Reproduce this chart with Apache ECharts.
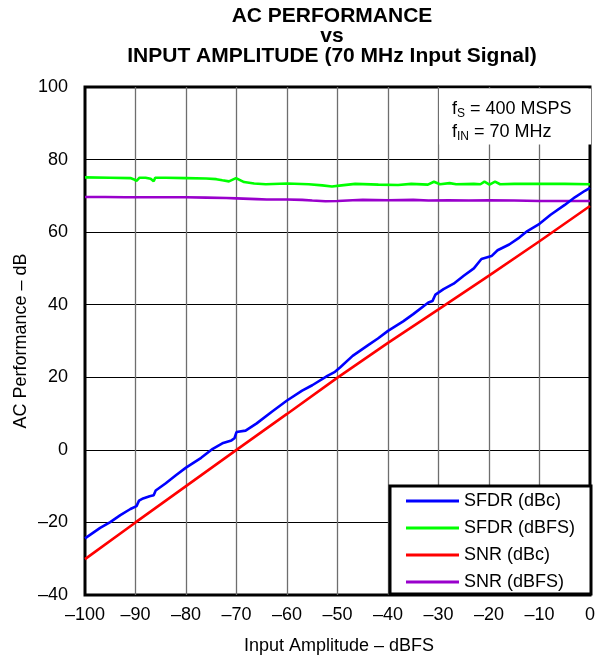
<!DOCTYPE html>
<html>
<head>
<meta charset="utf-8">
<script src="https://cdn.jsdelivr.net/npm/echarts@6/dist/echarts.min.js"></script>
<style>
  html, body { margin: 0; padding: 0; background: #fff; }
  #chart { width: 598px; height: 659px; }
</style>
</head>
<body>
<div id="chart"></div>
<script>
// Input amplitude (dBFS) and measured performance (dB) for each trace
const sfdrDbcX = [-100,-97,-95,-93,-91,-89.8,-89.3,-88.5,-87.2,-86.4,-86,-84,-82,-80,-77,-74.7,-72.8,-71,-70.4,-70,-68.2,-66,-63,-60,-57,-55,-52,-50.5,-49.5,-47,-44,-42,-40,-37,-35,-32,-31.2,-30.6,-29,-27,-25,-23,-21.5,-20.5,-19.5,-18.3,-16,-14,-12.4,-10,-7.8,-5,-3,-1,0];
const sfdrDbcY = [-24.4,-21.5,-19.9,-18.0,-16.3,-15.5,-14.0,-13.4,-12.8,-12.5,-11.2,-9.2,-7.0,-4.9,-2.2,0.3,1.8,2.6,3.2,4.9,5.3,7.3,10.5,13.6,16.3,17.8,20.4,21.5,22.7,25.9,28.8,30.7,32.8,35.4,37.4,40.6,41.0,42.8,44.3,45.8,48.0,50.0,52.6,53.0,53.4,55.0,56.6,58.5,60.3,62.3,64.8,67.5,69.6,71.4,72.2];

const sfdrDbfsX = [-100,-95,-91,-90.4,-89.8,-89.2,-88,-87,-86.4,-86.1,-84,-80,-76,-74,-72.8,-71.5,-70.1,-68.5,-66.5,-64.2,-60,-55.7,-53,-51.1,-49.2,-46.5,-41.9,-38,-35.4,-32.1,-30.9,-29.7,-27.8,-26.5,-23,-21.7,-20.9,-19.9,-18.8,-17.8,-15,-10,-5,0];
const sfdrDbfsY = [75.1,75.0,74.9,74.6,74.1,75.0,75.0,74.7,74.0,75.0,75.0,74.9,74.8,74.6,74.3,74.0,74.9,73.8,73.4,73.2,73.4,73.2,72.9,72.6,72.9,73.3,73.1,73.0,73.3,73.1,73.9,73.2,73.5,73.2,73.3,73.2,73.9,73.1,73.9,73.2,73.3,73.3,73.3,73.2];

const snrDbcX = [-100,-90,-80,-70,-60,-50,-40,-30,-20,-10,0];
const snrDbcY = [-30.1,-20.0,-10.0,0.0,9.9,19.9,29.5,38.7,48.0,57.5,67.2];

const snrDbfsX = [-100,-96,-92,-88,-84,-80,-76,-72,-70,-66,-64,-60,-57,-55,-52.4,-50,-47,-45,-40,-35,-32,-28,-24,-20,-15,-10,-5,0];
const snrDbfsY = [69.7,69.7,69.6,69.6,69.6,69.6,69.5,69.4,69.3,69.1,69.0,69.0,68.9,68.7,68.5,68.6,68.8,68.9,68.8,68.9,68.7,68.8,68.7,68.8,68.7,68.6,68.6,68.6];

const seriesNames = ['SFDR (dBc)', 'SFDR (dBFS)', 'SNR (dBc)', 'SNR (dBFS)'];
const seriesColors = ['#0000ff', '#00ff00', '#ff0000', '#9900cc'];

const FONT = '"Liberation Sans", Arial, Helvetica, sans-serif';

function pairs(xs, ys) { return xs.map((x, i) => [x, ys[i]]); }
function dashNum(v) { return v < 0 ? '\u2013' + Math.abs(v) : String(v); }

const chart = echarts.init(document.getElementById('chart'), null, { renderer: 'canvas' });

const data = [
  pairs(sfdrDbcX, sfdrDbcY),
  pairs(sfdrDbfsX, sfdrDbfsY),
  pairs(snrDbcX, snrDbcY),
  pairs(snrDbfsX, snrDbfsY)
];

chart.setOption({
  animation: false,
  backgroundColor: '#ffffff',
  textStyle: { fontFamily: FONT },
  grid: {
    left: 85, right: 5, top: 87, bottom: 64,
    show: true, borderColor: '#000', borderWidth: 3, backgroundColor: 'transparent'
  },
  xAxis: {
    type: 'value', min: -100, max: 0, interval: 10,
    axisLine: { show: false }, axisTick: { show: false },
    axisLabel: { formatter: dashNum, fontSize: 18, color: '#000', margin: 11, fontFamily: FONT },
    splitLine: { show: true, showMinLine: false, showMaxLine: false, lineStyle: { color: '#6e6e6e', width: 1.3 } }
  },
  yAxis: {
    type: 'value', min: -40, max: 100, interval: 20,
    axisLine: { show: false }, axisTick: { show: false },
    axisLabel: { formatter: dashNum, fontSize: 18, color: '#000', margin: 17, fontFamily: FONT },
    splitLine: { show: true, showMinLine: false, showMaxLine: false, lineStyle: { color: '#000', width: 1 } }
  },
  legend: {
    orient: 'vertical',
    left: 390, top: 486,
    padding: [6, 16, 3, 16],
    itemGap: 9,
    itemWidth: 53, itemHeight: 3,
    icon: 'rect',
    backgroundColor: '#fff',
    borderColor: '#000', borderWidth: 3,
    textStyle: { fontSize: 18, color: '#000', fontFamily: FONT },
    data: seriesNames
  },
  series: data.map((d, i) => ({
    name: seriesNames[i],
    type: 'line',
    data: d,
    showSymbol: false,
    symbol: 'none',
    smooth: false,
    z: i === 0 ? 5 : 3,
    lineStyle: { color: seriesColors[i], width: 2.6 },
    itemStyle: { color: seriesColors[i] }
  })),
  graphic: [
    {
      type: 'text', x: 332, y: 6, z: 10,
      style: {
        text: 'AC PERFORMANCE\nvs\nINPUT AMPLITUDE (70 MHz Input Signal)',
        textAlign: 'center',
        font: 'bold 21px ' + FONT, lineHeight: 20, fill: '#000'
      }
    },
    {
      type: 'rect', z: 10,
      shape: { x: 439, y: 88.5, width: 152, height: 56 },
      style: { fill: '#fff' }
    },
    {
      type: 'text', z: 11, x: 452, y: 98,
      style: {
        rich: {
          m: { fontSize: 18, fontFamily: FONT, fill: '#000' },
          s: { fontSize: 12, fontFamily: FONT, fill: '#000', padding: [8, 0, 0, 0] }
        },
        text: '{m|f}{s|S}{m| = 400 MSPS}\n{m|f}{s|IN}{m| = 70 MHz}',
        lineHeight: 23,
        fill: '#000'
      }
    },
    {
      type: 'text', z: 10, x: 21, y: 341, rotation: Math.PI / 2,
      style: {
        text: 'AC Performance \u2013 dB', textAlign: 'center', textVerticalAlign: 'middle',
        font: '18px ' + FONT, fill: '#000'
      }
    },
    {
      type: 'text', z: 10, x: 339, y: 646,
      style: {
        text: 'Input Amplitude \u2013 dBFS', textAlign: 'center', textVerticalAlign: 'middle',
        font: '18px ' + FONT, fill: '#000'
      }
    }
  ]
});
</script>
</body>
</html>
